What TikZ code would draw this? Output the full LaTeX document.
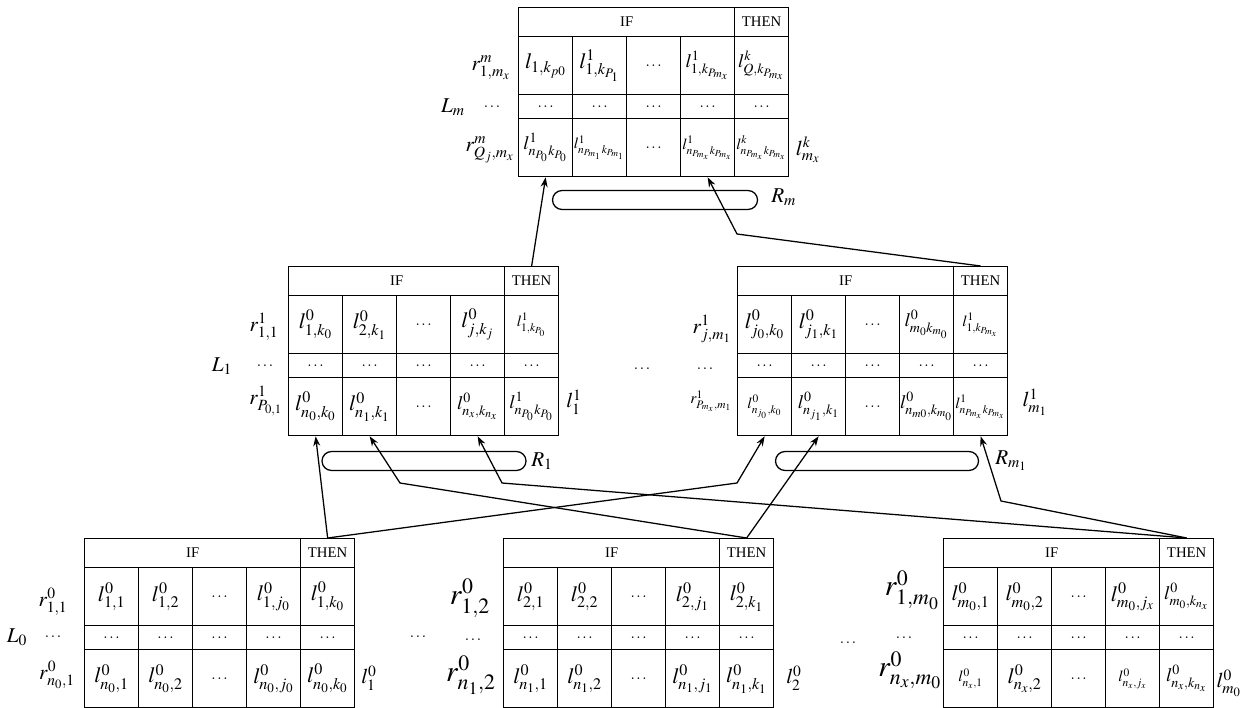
\documentclass[tikz,border=0pt]{standalone}
\usepackage{mathptmx}
\usepackage{fontspec}
\setmainfont{Liberation Serif}
\usetikzlibrary{arrows.meta,positioning}

\tikzset{
    hdr/.style={draw, line width=0.9pt, anchor=north west, inner sep=0pt, minimum height=0.725cm, font=\fontsize{10.5}{12}\selectfont},
    cella/.style={draw, line width=0.9pt, anchor=north west, inner sep=0pt, minimum width=1.35cm, minimum height=1.45cm, font=\fontsize{15.5}{18}\selectfont},
    cellb/.style={cella, minimum height=0.6cm, font=\fontsize{11}{13}\selectfont},
    lbl/.style={inner sep=0pt, font=\fontsize{15}{18}\selectfont},
    biglbl/.style={inner sep=0pt, font=\fontsize{21}{25}\selectfont},
    dotlbl/.style={inner sep=0pt, font=\fontsize{11}{13}\selectfont},
    rbox/.style={draw, line width=0.9pt, rounded corners=0.24cm, minimum height=0.475cm, inner sep=0pt},
    arr/.style={-{Stealth[length=7pt,width=5pt]}, line width=0.9pt}
}

\newcommand{\smcell}[1]{\hbox{\fontsize{11}{13}\selectfont$#1$}}
\newcommand{\mdcell}[1]{\hbox{\fontsize{13.5}{15}\selectfont$#1$}}
% one rule table: name, top-left corner, first row, last row
\newcommand{\ruletab}[4]{%
  \begin{scope}[shift={(#2)}]
    \node[hdr, minimum width=5.4cm] (#1-if) at (0,0) {IF};
    \node[hdr, minimum width=1.35cm] (#1-then) at (216,0) {THEN};
    \foreach \cv [count=\i] in {#3}
      \node[cella] (#1-a\i) at ({54*(\i-1)},29) {\makebox[0pt]{$\cv$}};
    \foreach \i in {1,...,5}
      \node[cellb] (#1-b\i) at ({54*(\i-1)},87) {$\dots$};
    \foreach \cv [count=\i] in {#4}
      \node[cella] (#1-c\i) at ({54*(\i-1)},111) {\makebox[0pt]{$\cv$}};
  \end{scope}}

\begin{document}
\begin{tikzpicture}[x=0.025cm, y=-0.025cm]
\useasboundingbox (0,0) rectangle (1246,708);

% level m
\ruletab{tm}{518,7}
  {{l_{1,k_{p0}}}, {l^1_{1,k_{P_1}}}, {\smcell{\dots}}, {\mdcell{l^1_{1,k_{P_{m_x}}}}}, {\mdcell{l^k_{Q,k_{P_{m_x}}}}}}
  {{\mdcell{l^1_{n_{P_0}k_{P_0}}}}, {\smcell{l^1_{n_{P_{m_1}}k_{P_{m_1}}}}}, {\smcell{\dots}}, {\smcell{l^1_{n_{P_{m_x}}k_{P_{m_x}}}}}, {\smcell{l^k_{n_{P_{m_x}}k_{P_{m_x}}}}}}
\node[lbl] (tm-ra) at (491,68) {$r^m_{1,m_x}$};
\node[dotlbl] (tm-rb) at (492,107) {$\dots$};
\node[lbl] (tm-rc) at (490,150) {$r^m_{Q_j,m_x}$};
\node[lbl] (tm-name) at (453,107) {$L_m$};
\node[lbl] (tm-out) at (808,150) {$l^k_{m_x}$};
\node[rbox, minimum width=5.125cm] (tm-rule) at (655,200) {};
\node[lbl, anchor=west] (tm-rname) at (771,197) {$R_m$};

% level 1
\ruletab{ml}{288,266}
  {{l^0_{1,k_0}}, {l^0_{2,k_1}}, {\smcell{\dots}}, {l^0_{j,k_j}}, {\smcell{l^1_{1,k_{P_0}}}}}
  {{l^0_{n_0,k_0}}, {l^0_{n_1,k_1}}, {\smcell{\dots}}, {\mdcell{l^0_{n_x,k_{n_x}}}}, {\mdcell{l^1_{n_{P_0}k_{P_0}}}}}
\node[lbl] (ml-ra) at (264,327) {$r^1_{1,1}$};
\node[dotlbl] (ml-rb) at (265,366) {$\dots$};
\node[lbl] (ml-rc) at (266,401) {$r^1_{P_{0,1}}$};
\node[lbl] (ml-name) at (222,366) {$L_1$};
\node[lbl] (ml-out) at (574,402) {$l^1_1$};
\node[rbox, minimum width=5.1cm] (ml-rule) at (424,461) {};
\node[lbl, anchor=west] (ml-rname) at (531,461) {$R_1$};

\node[dotlbl] (mid-gap) at (642,369) {$\dots$};

\ruletab{mr}{737,266}
  {{l^0_{j_0,k_0}}, {l^0_{j_1,k_1}}, {\smcell{\dots}}, {\mdcell{l^0_{m_0k_{m_0}}}}, {\smcell{l^1_{1,k_{P_{m_x}}}}}}
  {{\smcell{l^0_{n_{j_0},k_0}}}, {\mdcell{l^0_{n_{j_1},k_1}}}, {\smcell{\dots}}, {\mdcell{l^0_{n_{m0},k_{m_0}}}}, {\smcell{l^1_{n_{P_{m_x}}k_{P_{m_x}}}}}}
\node[lbl] (mr-ra) at (712,329) {$r^1_{j,m_1}$};
\node[dotlbl] (mr-rb) at (705,369) {$\dots$};
\node[lbl] (mr-rc) at (711,401) {\smcell{r^1_{P_{m_x},m_1}}};
\node[lbl] (mr-out) at (1035,402) {$l^1_{m_1}$};
\node[rbox, minimum width=5.075cm] (mr-rule) at (877,461) {};
\node[lbl, anchor=west] (mr-rname) at (995,461) {$R_{m_1}$};

% level 0
\ruletab{bl}{84,538}
  {{l^0_{1,1}}, {l^0_{1,2}}, {\smcell{\dots}}, {l^0_{1,j_0}}, {l^0_{1,k_0}}}
  {{l^0_{n_0,1}}, {l^0_{n_0,2}}, {\smcell{\dots}}, {l^0_{n_0,j_0}}, {l^0_{n_0,k_0}}}
\node[lbl] (bl-ra) at (53,602) {$r^0_{1,1}$};
\node[dotlbl] (bl-rb) at (53,637) {$\dots$};
\node[lbl] (bl-rc) at (57,675) {$r^0_{n_0,1}$};
\node[lbl] (bl-name) at (17,637) {$L_0$};
\node[lbl] (bl-out) at (369,678) {$l^0_1$};

\node[dotlbl] (low-gap1) at (418,637) {$\dots$};

\ruletab{bm}{503,538}
  {{l^0_{2,1}}, {l^0_{2,2}}, {\smcell{\dots}}, {l^0_{2,j_1}}, {l^0_{2,k_1}}}
  {{l^0_{n_1,1}}, {l^0_{n_1,2}}, {\smcell{\dots}}, {l^0_{n_1,j_1}}, {l^0_{n_1,k_1}}}
\node[biglbl] (bm-ra) at (470,598) {$r^0_{1,2}$};
\node[dotlbl] (bm-rb) at (473,640) {$\dots$};
\node[biglbl] (bm-rc) at (471,675) {$r^0_{n_1,2}$};
\node[lbl] (bm-out) at (794,678) {$l^0_2$};

\node[dotlbl] (low-gap2) at (848,643) {$\dots$};

\ruletab{br}{943,538}
  {{l^0_{m_0,1}}, {l^0_{m_0,2}}, {\smcell{\dots}}, {l^0_{m_0,j_x}}, {\mdcell{l^0_{m_0,k_{n_x}}}}}
  {{\smcell{l^0_{n_x,1}}}, {l^0_{n_x,2}}, {\smcell{\dots}}, {\smcell{l^0_{n_x,j_x}}}, {\mdcell{l^0_{n_x,k_{n_x}}}}}
\node[biglbl] (br-ra) at (912,590) {$r^0_{1,m_0}$};
\node[dotlbl] (br-rb) at (904,638) {$\dots$};
\node[biglbl] (br-rc) at (910,670) {$r^0_{n_x,m_0}$};
\node[lbl] (br-out) at (1229,683) {$l^0_{m_0}$};

% bends of the connectors
\coordinate (k1) at (737,483);
\coordinate (k2) at (400,483);
\coordinate (k3) at (502,483);
\coordinate (k4) at (1001,501);
\coordinate (k5) at (737,234);

\draw[arr] (bl-then.north) -- (ml-c1.south);
\draw[arr] (bl-then.north) -- (k1) -- (mr-c1.south);
\draw[arr] (bm-then.north) -- (k2) -- (ml-c2.south);
\draw[arr] (bm-then.north) -- (mr-c2.south);
\draw[arr] (br-then.north) -- (k3) -- (ml-c4.south);
\draw[arr] (br-then.north) -- (k4) -- (mr-c5.south);
\draw[arr] (ml-then.north) -- (tm-c1.south);
\draw[arr] (mr-then.north) -- (k5) -- (tm-c4.south);
\end{tikzpicture}
\end{document}
